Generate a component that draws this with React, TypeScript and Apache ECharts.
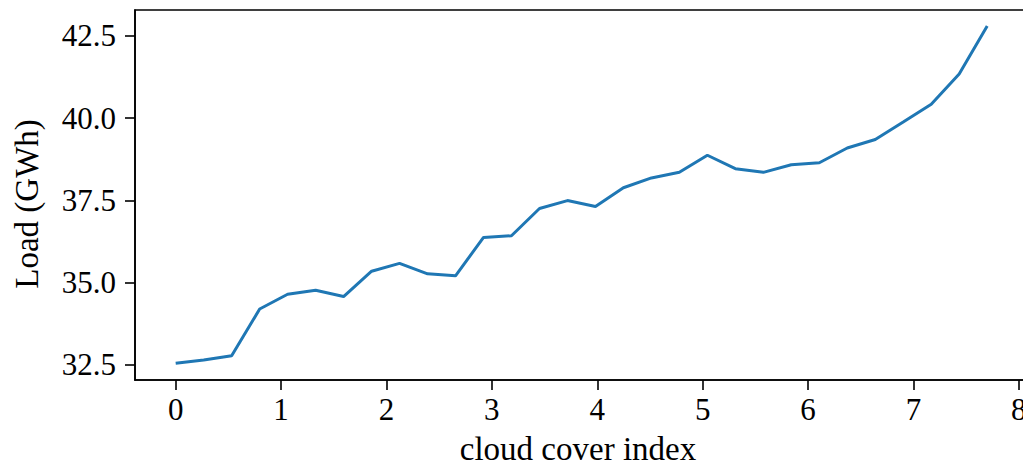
import React, { useEffect, useRef } from "react";
import * as echarts from "echarts";

const cloudCover: number[] = [
  0, 0.266, 0.531, 0.797, 1.062, 1.328, 1.593, 1.859, 2.124, 2.39,
  2.655, 2.921, 3.186, 3.452, 3.717, 3.983, 4.248, 4.514, 4.779, 5.045,
  5.31, 5.576, 5.841, 6.107, 6.372, 6.638, 6.903, 7.169, 7.434, 7.7,
];
const loadGWh: number[] = [
  32.54, 32.64, 32.77, 34.19, 34.64, 34.76, 34.57, 35.34, 35.58, 35.26,
  35.2, 36.37, 36.42, 37.25, 37.49, 37.31, 37.88, 38.18, 38.35, 38.87,
  38.46, 38.35, 38.58, 38.64, 39.09, 39.35, 39.88, 40.42, 41.34, 42.8,
];
const xTicks: number[] = [0, 1, 2, 3, 4, 5, 6, 7, 8];
const yTicks: number[] = [32.5, 35.0, 37.5, 40.0, 42.5];
const xTitle = "cloud cover index";
const yTitle = "Load (GWh)";

const FONT = "'Liberation Serif', 'DejaVu Serif', serif";

export default function App() {
  const ref = useRef<HTMLDivElement>(null);
  useEffect(() => {
    if (!ref.current) return;
    document.body.style.overflow = "hidden";
    const chart = echarts.init(ref.current, undefined, { renderer: "svg" });
    const data = cloudCover.map((x, i) => [x, loadGWh[i]]);
    const axisLine = {
      show: true,
      onZero: false,
      lineStyle: { color: "#000000", width: 1.6 },
    };
    chart.setOption({
      animation: false,
      backgroundColor: "#ffffff",
      grid: {
        left: 135,
        top: 10,
        width: 895,
        height: 370,
        show: true,
        borderColor: "#000000",
        borderWidth: 1.6,
        containLabel: false,
      },
      xAxis: {
        type: "value",
        min: -0.386,
        max: 8.106,
        axisLine,
        splitLine: { show: false },
        axisTick: {
          show: true,
          inside: false,
          length: 10,
          customValues: xTicks,
          lineStyle: { color: "#000000", width: 1.6 },
        },
        axisLabel: {
          customValues: xTicks,
          formatter: (v: number) => String(Math.round(v)),
          fontFamily: FONT,
          fontSize: 31,
          color: "#000000",
          margin: 14,
        },
      },
      yAxis: {
        type: "value",
        min: 32.03,
        max: 43.29,
        axisLine,
        splitLine: { show: false },
        axisTick: {
          show: true,
          inside: false,
          length: 10,
          customValues: yTicks,
          lineStyle: { color: "#000000", width: 1.6 },
        },
        axisLabel: {
          customValues: yTicks,
          formatter: (v: number) => v.toFixed(1),
          fontFamily: FONT,
          fontSize: 31,
          color: "#000000",
          margin: 19,
        },
      },
      series: [
        {
          type: "line",
          data,
          showSymbol: false,
          symbol: "none",
          clip: true,
          lineStyle: { color: "#1f77b4", width: 3 },
        },
      ],
      graphic: [
        {
          type: "text",
          x: 578,
          y: 449,
          style: {
            text: xTitle,
            fontFamily: FONT,
            fontSize: 33,
            fill: "#000000",
            align: "center",
            verticalAlign: "middle",
          },
        },
        {
          type: "text",
          x: 27,
          y: 204,
          rotation: Math.PI / 2,
          style: {
            text: yTitle,
            fontFamily: FONT,
            fontSize: 33,
            fill: "#000000",
            align: "center",
            verticalAlign: "middle",
          },
        },
      ],
    });
    return () => chart.dispose();
  }, []);
  return (
    <div
      ref={ref}
      style={{ position: "fixed", left: 0, top: 0, width: 1040, height: 463 }}
    />
  );
}
